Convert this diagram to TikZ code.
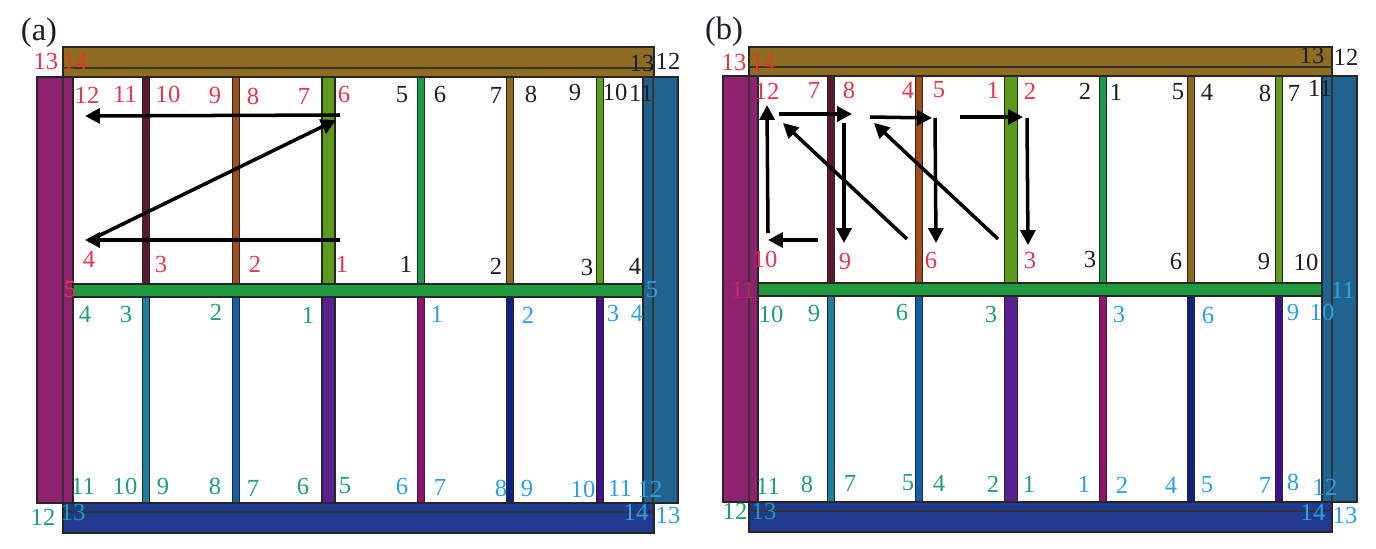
\documentclass[tikz,border=0pt]{standalone}
\usepackage{fontspec}
\setmainfont{Liberation Serif}
\usetikzlibrary{arrows.meta}
\definecolor{cbeam}{HTML}{8F6C1F}
\definecolor{cleft}{HTML}{8E2270}
\definecolor{cright}{HTML}{21638F}
\definecolor{cbot}{HTML}{203A90}
\definecolor{cmid}{HTML}{1F9A3C}
\definecolor{tA}{HTML}{5C1830}
\definecolor{tB}{HTML}{A34C1C}
\definecolor{tC}{HTML}{5B9A1B}
\definecolor{tD}{HTML}{1B9A4A}
\definecolor{tE}{HTML}{8A681E}
\definecolor{tF}{HTML}{5C9E1A}
\definecolor{bA}{HTML}{1F7E9E}
\definecolor{bB}{HTML}{1260A8}
\definecolor{bC}{HTML}{5A2092}
\definecolor{bD}{HTML}{921070}
\definecolor{bE}{HTML}{122280}
\definecolor{bF}{HTML}{40108E}
\definecolor{lred}{HTML}{E2384C}
\definecolor{lorg}{HTML}{E23A1E}
\definecolor{lblk}{HTML}{1C1C2C}
\definecolor{lgrn}{HTML}{20A070}
\definecolor{lteal}{HTML}{22A0A0}
\definecolor{lblu}{HTML}{2CA0E4}
\tikzset{
  member/.style={draw=black!85,line width=.7pt},
  innerline/.style={draw=black!80,line width=.8pt},
  lbl/.style={inner sep=0pt,font=\fontsize{14}{15}\selectfont},
  pan/.style={inner sep=0pt,font=\fontsize{18.5}{20}\selectfont,text=lblk},
  flow/.style={draw=black,line width=2pt,-{Triangle[length=8.5pt,width=8.5pt]}}
}
\begin{document}
\begin{tikzpicture}[x=.02cm,y=-.02cm]
\useasboundingbox (0,0) rectangle (1376,548);
% ---------- panel (a)
\foreach \x/\c in {146/tA,236/tB,421/tD,510/tE,600/tF}
  \draw[member,fill=\c] (\x-3.5,77) rectangle (\x+3.5,284);
\draw[member,fill=tC] (322,77) rectangle (335,284);
\foreach \x/\c in {146/bA,236/bB,421/bD,510/bE,600/bF}
  \draw[member,fill=\c] (\x-3.5,297) rectangle (\x+3.5,503);
\draw[member,fill=bC] (322,297) rectangle (335,503);
\draw[member,fill=cleft] (37,77) rectangle (73,503);
\draw[innerline] (63,77) -- (63,503);
\draw[member,fill=cright] (643,77) rectangle (678,503);
\draw[innerline] (653,77) -- (653,503);
\draw[member,fill=cmid] (73,284) rectangle (643,297);
\draw[member,fill=cbeam] (63,47) rectangle (654,77);
\draw[innerline] (63,68) -- (654,68);
\draw[member,fill=cbot] (63,503) rectangle (654,533);
\draw[innerline] (63,512) -- (654,512);
% ---------- panel (b)
\foreach \x/\c in {831/tA,919/tB,1103/tD,1191/tE,1279/tF}
  \draw[member,fill=\c] (\x-3.5,76) rectangle (\x+3.5,283);
\draw[member,fill=tC] (1004.5,76) rectangle (1017.5,283);
\foreach \x/\c in {831/bA,919/bB,1103/bD,1191/bE,1279/bF}
  \draw[member,fill=\c] (\x-3.5,296) rectangle (\x+3.5,502);
\draw[member,fill=bC] (1004.5,296) rectangle (1017.5,502);
\draw[member,fill=cleft] (723,76) rectangle (758,502);
\draw[innerline] (749,76) -- (749,502);
\draw[member,fill=cright] (1322,76) rectangle (1357,502);
\draw[innerline] (1332,76) -- (1332,502);
\draw[member,fill=cmid] (758,283) rectangle (1322,296);
\draw[member,fill=cbeam] (749,47) rectangle (1332,76);
\draw[innerline] (749,67) -- (1332,67);
\draw[member,fill=cbot] (749,502) rectangle (1332,532);
\draw[innerline] (749,511) -- (1332,511);
% ---------- panel letters
\node[pan] (pa) at (39,33) {(a)};
\node[pan] (pb) at (724,32) {(b)};
% ---------- labels (a)
\foreach \t/\x/\y in {13/46/61,12/87/95,11/125/94,10/168/94,9/215/95,8/253/96,7/304/96,6/344/94,4/89/259,3/161/264,2/255/264,1/342/264,5/70/290}
  \node[lbl,text=lred] (ar\x-\y) at (\x,\y) {\t};
\node[lbl,text=lorg] (ar14) at (75,61) {14};
\foreach \t/\x/\y in {5/402/95,6/440/94,7/496/95,8/531/94,9/575/92,10/615/92,11/641/93,12/668/61,13/642/63,1/406/264,2/496/266,3/587/267,4/635/266}
  \node[lbl,text=lblk] (ak\x-\y) at (\x,\y) {\t};
\foreach \t/\x/\y in {4/85/314,3/126/314,2/216/312,1/308/315,11/83/486,10/125/486,9/163/486,8/215/486,7/253/488,6/303/486,5/345/486,12/43/517}
  \node[lbl,text=lgrn] (ag\x-\y) at (\x,\y) {\t};
\node[lbl,text=lteal] (ag13) at (73,512) {13};
\foreach \t/\x/\y in {5/652/290,1/437/314,2/528/315,3/613/313,4/637/313,6/402/486,7/440/487,8/501/488,9/527/488,10/583/489,11/620/488,12/650/489,14/636/512,13/668/515}
  \node[lbl,text=lblu] (au\x-\y) at (\x,\y) {\t};
% ---------- labels (b)
\foreach \t/\x/\y in {13/734/62,12/767/91,7/814/90,8/849/90,4/908/90,5/939/90,1/993/90,2/1030/91,10/765/259,9/845/261,6/931/260,3/1030/260}
  \node[lbl,text=lred] (br\x-\y) at (\x,\y) {\t};
\node[lbl,text=lorg] (br14) at (763,62) {14};
\node[lbl,text=lred,opacity=.6] (br11) at (743,290) {11};
\foreach \t/\x/\y in {2/1085/91,1/1116/92,5/1178/92,4/1207/92,8/1265/93,7/1294/93,11/1320/88,12/1346/57,13/1312/55,3/1090/259,6/1176/261,9/1264/261,10/1306/262}
  \node[lbl,text=lblk] (bk\x-\y) at (\x,\y) {\t};
\foreach \t/\x/\y in {10/771/314,9/814/313,6/902/312,3/991/314,11/768/486,8/807/484,7/850/483,5/908/483,4/939/483,2/993/484,1/1029/484,12/735/511}
  \node[lbl,text=lgrn] (bg\x-\y) at (\x,\y) {\t};
\node[lbl,text=lteal] (bg13) at (764,511) {13};
\foreach \t/\x/\y in {1/1084/484,3/1119/314,6/1208/315,9/1293/312,10/1322/312,11/1343/290,2/1122/485,4/1171/485,5/1207/485,7/1265/485,8/1293/482,12/1325/487,14/1313/512,13/1345/515}
  \node[lbl,text=lblu] (bu\x-\y) at (\x,\y) {\t};
% ---------- flow arrows (a)
\coordinate (a1) at (340,240); \coordinate (a2) at (85,240);
\coordinate (a3) at (88,241);  \coordinate (a4) at (336,120);
\coordinate (a5) at (340,115); \coordinate (a6) at (85,116);
\draw[flow] (a1) -- (a2);
\draw[flow] (a3) -- (a4);
\draw[flow] (a5) -- (a6);
% ---------- flow arrows (b)
\coordinate (c1) at (960,117);  \coordinate (c2) at (1023,117);
\coordinate (c3) at (1027,118); \coordinate (c4) at (1028,245);
\coordinate (c5) at (998,239);  \coordinate (c6) at (874,123);
\coordinate (c7) at (870,117);  \coordinate (c8) at (932,118);
\coordinate (c9) at (935,118);  \coordinate (c10) at (936,243);
\coordinate (c11) at (907,239); \coordinate (c12) at (783,123);
\coordinate (c13) at (779,114); \coordinate (c14) at (852,114);
\coordinate (c15) at (844,123); \coordinate (c16) at (844,243);
\coordinate (c17) at (818,240); \coordinate (c18) at (768,240);
\coordinate (c19) at (768,233); \coordinate (c20) at (767,105);
\foreach \s/\e in {c1/c2,c3/c4,c5/c6,c7/c8,c9/c10,c11/c12,c13/c14,c15/c16,c17/c18,c19/c20}
  \draw[flow] (\s) -- (\e);
\end{tikzpicture}
\end{document}
